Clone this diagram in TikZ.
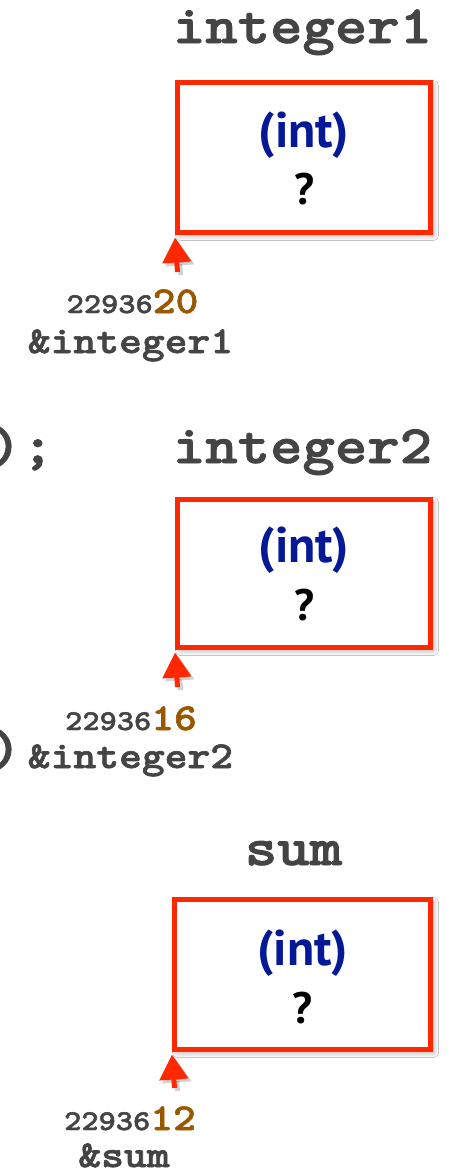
\documentclass[tikz,border=0pt]{standalone}
\usepackage{fontspec}
\newfontfamily\typewriter{lmmonolt10-bold.otf}[FakeStretch=1.1429,FakeBold=1.6]
\newfontfamily\humanist{PT Sans}
\usetikzlibrary{arrows.meta,shadows.blur}
\definecolor{boxred}{RGB}{255,40,0}
\definecolor{codegray}{RGB}{68,68,68}
\definecolor{addrbrown}{RGB}{153,88,0}
\definecolor{typeblue}{RGB}{5,25,150}
\begin{document}
\begin{tikzpicture}[x=1pt,y=-1pt,
  cell/.style={draw=boxred, line width=5pt, fill=white, inner sep=0pt,
    minimum width=253pt, minimum height=150pt,
    blur shadow={shadow xshift=3pt, shadow yshift=-3pt, shadow blur steps=10,
      shadow blur radius=5pt, shadow opacity=35}},
  varname/.style={font=\typewriter\fontsize{54}{54}\selectfont,
    text=codegray, anchor=base, inner sep=0pt},
  codefrag/.style={font=\typewriter\fontsize{54}{54}\selectfont,
    text=codegray, anchor=base west, inner sep=0pt},
  typetxt/.style={font=\humanist\bfseries\fontsize{50}{50}\selectfont,
    text=typeblue, inner sep=0pt},
  valtxt/.style={font=\humanist\bfseries\fontsize{44}{44}\selectfont,
    text=black, inner sep=0pt},
  addr/.style={font=\typewriter, text=codegray, anchor=base, inner sep=0pt},
  refname/.style={font=\typewriter\fontsize{38}{38}\selectfont,
    text=codegray, anchor=base, inner sep=0pt},
  ptr/.style={draw=boxred, line width=5pt, -{Triangle[width=28pt,length=25pt]}},
  ptrshadow/.style={draw=black, opacity=0.18, line width=5pt,
    -{Triangle[width=28pt,length=25pt]}, transform canvas={shift={(3pt,-3pt)}}},
]
\useasboundingbox[fill=white] (0,0) rectangle (452,1173);

% fragments of the source code on the left
\node[codefrag] (c1) at (-11,463) {);};
\node[codefrag] (c2) at (-11,766) {)};

% variable integer1
\node[varname] (n1) at (302.5,43) {integer1};
\node[cell] (b1) at (304,157.5) {};
\node[typetxt] (t1) at (304,135) {(int)};
\node[valtxt] (v1) at (304,189) {?};
\coordinate (p1) at (177.5,272);
\draw[ptrshadow] (p1) -- ([yshift=-2.5pt]b1.south west);
\draw[ptr] (p1) -- ([yshift=-2.5pt]b1.south west);
\node[addr] (a1) at (132.5,313) {{\fontsize{28.7}{30}\selectfont 22936}{\fontsize{38}{40}\selectfont\color{addrbrown}20}};
\node[refname] (r1) at (130.5,353) {\&integer1};

% variable integer2
\node[varname] (n2) at (302.5,463) {integer2};
\node[cell, minimum height=148pt] (b2) at (304,573.5) {};
\node[typetxt] (t2) at (304,550) {(int)};
\node[valtxt] (v2) at (304,605) {?};
\coordinate (p2) at (177.5,687);
\draw[ptrshadow] (p2) -- ([yshift=-2.5pt]b2.south west);
\draw[ptr] (p2) -- ([yshift=-2.5pt]b2.south west);
\node[addr] (a2) at (131,730) {{\fontsize{28.7}{30}\selectfont 22936}{\fontsize{38}{40}\selectfont\color{addrbrown}16}};
\node[refname] (r2) at (130.5,768) {\&integer2};

% variable sum
\node[varname] (n3) at (293.5,865) {sum};
\node[cell, minimum width=256pt] (b3) at (302.5,974.5) {};
\node[typetxt] (t3) at (302.5,953) {(int)};
\node[valtxt] (v3) at (302.5,1008) {?};
\coordinate (p3) at (174.5,1088);
\draw[ptrshadow] (p3) -- ([yshift=-2.5pt]b3.south west);
\draw[ptr] (p3) -- ([yshift=-2.5pt]b3.south west);
\node[addr] (a3) at (130,1130) {{\fontsize{28.7}{30}\selectfont 22936}{\fontsize{38}{40}\selectfont\color{addrbrown}12}};
\node[refname] (r3) at (124,1167) {\&sum};
\end{tikzpicture}
\end{document}
